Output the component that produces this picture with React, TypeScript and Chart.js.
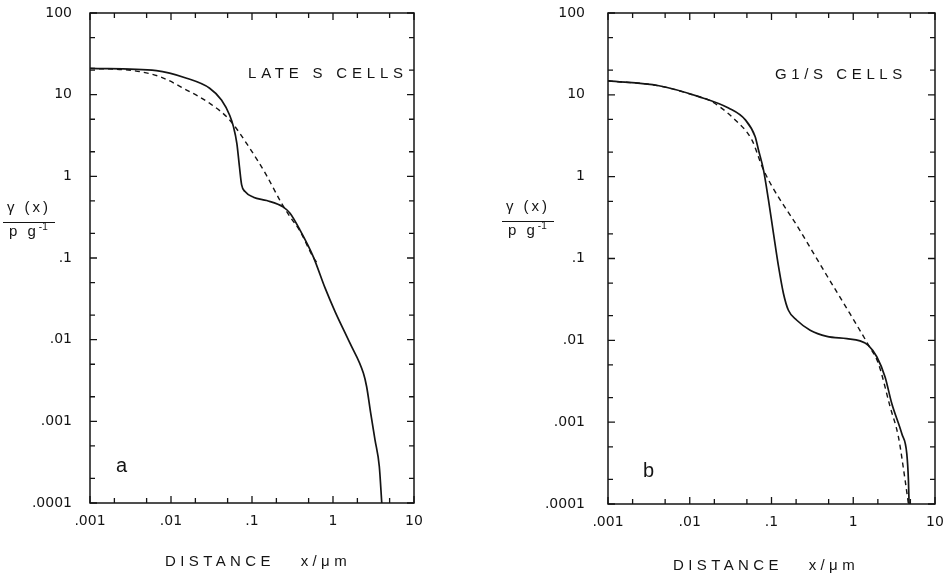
import React, { useEffect, useRef } from 'react';
import { Chart, registerables } from 'chart.js';

Chart.register(...registerables);

// ---------- data ----------
const xTickValues = [0.001, 0.01, 0.1, 1, 10];
const xTickLabels = ['.001', '.01', '.1', '1', '10'];
const yTickValues = [0.0001, 0.001, 0.01, 0.1, 1, 10, 100];
const yTickLabels = ['.0001', '.001', '.01', '.1', '1', '10', '100'];
const minorMultipliers = [2, 5];

// Panel a: late S cells
const lateSolidX = [0.001, 0.0066, 0.0156, 0.03, 0.042, 0.053, 0.059, 0.065, 0.07, 0.0745, 0.082, 0.104, 0.152, 0.244, 0.295, 0.39, 0.57, 0.8, 1.06, 1.62, 2.37, 2.6, 2.92, 3.3, 3.73, 4.0];
const lateSolidY = [21, 19.7, 15.9, 12, 8.6, 5.6, 4.06, 2.54, 1.31, 0.785, 0.65, 0.555, 0.505, 0.42, 0.353, 0.221, 0.104, 0.0427, 0.0221, 0.00906, 0.0039, 0.00267, 0.00126, 0.000594, 0.00028, 0.0001];
const lateDashX = [0.001, 0.0034, 0.0073, 0.0156, 0.03, 0.053, 0.094, 0.15, 0.232, 0.295, 0.39, 0.57, 0.65];
const lateDashY = [21, 19.7, 16.6, 11.4, 7.85, 4.9, 2.2, 1.04, 0.467, 0.32, 0.215, 0.102, 0.085];

// Panel b: G1/S cells
const g1SolidX = [0.001, 0.0042, 0.0129, 0.0298, 0.0479, 0.063, 0.0693, 0.0798, 0.0918, 0.1057, 0.122, 0.14, 0.161, 0.204, 0.297, 0.475, 0.835, 1.21, 1.53, 1.94, 2.45, 2.96, 3.93, 4.52, 4.73, 4.82];
const g1SolidY = [14.8, 12.9, 9.5, 6.9, 4.94, 3.09, 2.12, 1.21, 0.519, 0.203, 0.0794, 0.0374, 0.0233, 0.0176, 0.0133, 0.0112, 0.0105, 0.00985, 0.0087, 0.0063, 0.00357, 0.00169, 0.00072, 0.00041, 0.000195, 0.0001];
const g1DashX = [0.001, 0.0042, 0.0129, 0.017, 0.036, 0.0575, 0.0798, 0.224, 0.475, 0.916, 1.53, 2.03, 2.83, 3.57, 4.31, 4.73];
const g1DashY = [14.8, 12.9, 9.5, 8.7, 4.94, 2.81, 1.21, 0.218, 0.062, 0.021, 0.0088, 0.0052, 0.00153, 0.00066, 0.000195, 0.0001];

const INK = '#141414';
const FONT = '"Liberation Sans", Arial, Helvetica, sans-serif';
const TICK_FONT = '"DejaVu Sans", "Liberation Sans", sans-serif';

const zip = (xs: number[], ys: number[]) => xs.map((x, i) => ({ x, y: ys[i] }));

const labelFor = (values: number[], labels: string[], v: number) => {
  const i = values.findIndex((t) => Math.abs(t - v) / t < 1e-6);
  return i >= 0 ? labels[i] : '';
};

const inwardTicks = {
  id: 'inwardTicks',
  afterDraw(chart: any) {
    const { ctx, chartArea: a, scales } = chart;
    ctx.save();
    ctx.strokeStyle = INK;
    ctx.lineWidth = 1.5;
    ctx.strokeRect(a.left, a.top, a.right - a.left, a.bottom - a.top);
    ctx.lineWidth = 1.3;
    const xs = scales.x;
    const ys = scales.y;
    const drawSet = (vals: number[], len: number) => {
      vals.forEach((v) => {
        if (v >= xs.min * 0.999 && v <= xs.max * 1.001) {
          const px = xs.getPixelForValue(v);
          ctx.beginPath();
          ctx.moveTo(px, a.bottom);
          ctx.lineTo(px, a.bottom - len);
          ctx.moveTo(px, a.top);
          ctx.lineTo(px, a.top + len);
          ctx.stroke();
        }
      });
    };
    const drawSetY = (vals: number[], len: number) => {
      vals.forEach((v) => {
        if (v >= ys.min * 0.999 && v <= ys.max * 1.001) {
          const py = ys.getPixelForValue(v);
          ctx.beginPath();
          ctx.moveTo(a.left, py);
          ctx.lineTo(a.left + len, py);
          ctx.moveTo(a.right, py);
          ctx.lineTo(a.right - len, py);
          ctx.stroke();
        }
      });
    };
    drawSet(xTickValues, 7);
    drawSet(xTickValues.flatMap((d) => minorMultipliers.map((m) => d * m)), 5);
    drawSetY(yTickValues, 7);
    drawSetY(yTickValues.flatMap((d) => minorMultipliers.map((m) => d * m)), 5);
    ctx.restore();
  },
};

type PanelProps = {
  solidX: number[];
  solidY: number[];
  dashX: number[];
  dashY: number[];
  left: number;
  width: number;
  padRight: number;
  padTop: number;
  yAxisWidth: number;
  xAxisHeight: number;
  yLabelPad: number;
};

function LogPanel(p: PanelProps) {
  const ref = useRef<HTMLCanvasElement>(null);
  useEffect(() => {
    const chart = new Chart(ref.current as HTMLCanvasElement, {
      type: 'line',
      data: {
        datasets: [
          {
            data: zip(p.solidX, p.solidY),
            borderColor: INK,
            borderWidth: 1.7,
            pointRadius: 0,
            cubicInterpolationMode: 'monotone',
            fill: false,
          },
          {
            data: zip(p.dashX, p.dashY),
            borderColor: INK,
            borderWidth: 1.4,
            borderDash: [5, 4],
            pointRadius: 0,
            cubicInterpolationMode: 'monotone',
            fill: false,
          },
        ],
      } as any,
      options: {
        responsive: false,
        animation: false,
        devicePixelRatio: 1,
        layout: { padding: { left: 0, right: p.padRight, top: p.padTop, bottom: 0 } },
        plugins: { legend: { display: false }, tooltip: { enabled: false } },
        scales: {
          x: {
            type: 'logarithmic',
            min: 0.001,
            max: 10,
            grid: { display: false, drawTicks: false },
            border: { display: false },
            afterBuildTicks: (s: any) => {
              s.ticks = xTickValues.map((v) => ({ value: v }));
            },
            afterFit: (s: any) => {
              s.height = p.xAxisHeight;
              s.paddingLeft = 0;
              s.paddingRight = 0;
              s.paddingTop = 0;
              s.paddingBottom = 0;
            },
            ticks: {
              autoSkip: false,
              maxRotation: 0,
              padding: 10,
              color: INK,
              font: { family: TICK_FONT, size: 14 },
              callback: (v: any) => labelFor(xTickValues, xTickLabels, Number(v)),
            },
          },
          y: {
            type: 'logarithmic',
            min: 0.0001,
            max: 100,
            grid: { display: false, drawTicks: false },
            border: { display: false },
            afterBuildTicks: (s: any) => {
              s.ticks = yTickValues.map((v) => ({ value: v }));
            },
            afterFit: (s: any) => {
              s.width = p.yAxisWidth;
              s.paddingLeft = 0;
              s.paddingRight = 0;
              s.paddingTop = 0;
              s.paddingBottom = 0;
            },
            ticks: {
              autoSkip: false,
              padding: p.yLabelPad,
              color: INK,
              font: { family: TICK_FONT, size: 14 },
              callback: (v: any) => labelFor(yTickValues, yTickLabels, Number(v)),
            },
          },
        },
      } as any,
      plugins: [inwardTicks],
    });
    return () => chart.destroy();
  }, []);
  return (
    <canvas
      ref={ref}
      width={p.width}
      height={574}
      style={{ position: 'absolute', left: p.left, top: 0, width: p.width, height: 574 }}
    />
  );
}

const txt = (extra: React.CSSProperties): React.CSSProperties => ({
  position: 'absolute',
  fontFamily: FONT,
  color: INK,
  whiteSpace: 'pre',
  lineHeight: 1,
  margin: 0,
  ...extra,
});

function YTitle({ left, top }: { left: number; top: number }) {
  return (
    <>
      <div style={txt({ left, top, width: 52, textAlign: 'center', fontSize: 15, letterSpacing: 3 })}>γ (x)</div>
      <div style={{ position: 'absolute', left, top: top + 23, width: 52, borderTop: `1.5px solid ${INK}` }} />
      <div style={txt({ left: left + 6, top: top + 23.5, fontSize: 15, letterSpacing: 3 })}>
        p g<sup style={{ fontSize: 10, letterSpacing: 0, verticalAlign: 'top', position: 'relative', top: -1 }}>-1</sup>
      </div>
    </>
  );
}

export default function App() {
  return (
    <div style={{ position: 'fixed', left: 0, top: 0, width: 951, height: 574, background: '#fff', overflow: 'hidden' }}>
      <LogPanel
        solidX={lateSolidX}
        solidY={lateSolidY}
        dashX={lateDashX}
        dashY={lateDashY}
        left={0}
        width={475}
        padRight={61}
        padTop={13}
        yAxisWidth={90}
        xAxisHeight={71}
        yLabelPad={18}
      />
      <LogPanel
        solidX={g1SolidX}
        solidY={g1SolidY}
        dashX={g1DashX}
        dashY={g1DashY}
        left={475}
        width={476}
        padRight={16}
        padTop={13}
        yAxisWidth={133}
        xAxisHeight={70}
        yLabelPad={23}
      />
      <YTitle left={3} top={199} />
      <YTitle left={502} top={198} />
      <div style={txt({ left: 248, top: 65, fontSize: 15, letterSpacing: 4.8 })}>LATE S CELLS</div>
      <div style={txt({ left: 775, top: 66, fontSize: 15, letterSpacing: 4.6 })}>G1/S CELLS</div>
      <div style={txt({ left: 116, top: 455, fontSize: 20 })}>a</div>
      <div style={txt({ left: 643, top: 460, fontSize: 20 })}>b</div>
      <div style={txt({ left: 165, top: 553, fontSize: 15, letterSpacing: 4.4 })}>{'DISTANCE   x/μm'}</div>
      <div style={txt({ left: 673, top: 557, fontSize: 15, letterSpacing: 4.4 })}>{'DISTANCE   x/μm'}</div>
    </div>
  );
}
